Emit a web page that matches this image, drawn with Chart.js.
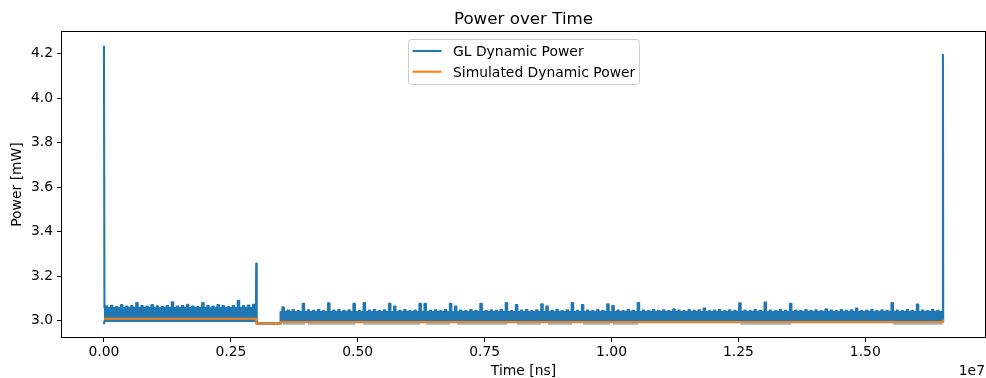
<!DOCTYPE html>
<html>
<head>
<meta charset="utf-8">
<title>Power over Time</title>
<script src="https://cdn.jsdelivr.net/npm/chart.js@4.4.0/dist/chart.umd.min.js"></script>
<style>
    html, body { margin: 0; padding: 0; background: #fff; }
    #powerChart { display: block; }
</style>
</head>
<body>
<canvas id="powerChart" width="986" height="378"></canvas>
<script>
// Tick positions (x in units of 1e7 ns)
const xTicks = [0, 0.25, 0.5, 0.75, 1.0, 1.25, 1.5];
const yTicks = [3.0, 3.2, 3.4, 3.6, 3.8, 4.0, 4.2];

// GL dynamic power, max of each 100 us window, first run (t = 0 .. 3.0e6 ns)
const glWindowNs = 1e5;
const glStartA = 0;
const glMaxA = [3.065, 3.067, 3.062, 3.070, 3.064, 3.066, 3.079, 3.066, 3.064, 3.071,
                3.065, 3.062, 3.066, 3.083, 3.064, 3.066, 3.072, 3.064, 3.062, 3.079,
                3.066, 3.064, 3.071, 3.066, 3.062, 3.066, 3.090, 3.066, 3.068, 3.072];

// second run (t = 3.48e6 .. 16.53e6 ns)
const glStartB = 3.48e6;
const glMaxB = [3.060, 3.046, 3.048, 3.044, 3.076, 3.047, 3.045, 3.048, 3.044, 3.078,
                3.046, 3.048, 3.045, 3.047, 3.076, 3.044, 3.079, 3.046, 3.048, 3.044,
                3.047, 3.076, 3.064, 3.045, 3.048, 3.044, 3.046, 3.076, 3.076, 3.045,
                3.047, 3.044, 3.048, 3.076, 3.064, 3.046, 3.044, 3.048, 3.045, 3.076,
                3.044, 3.047, 3.045, 3.048, 3.079, 3.044, 3.070, 3.046, 3.048, 3.044,
                3.047, 3.074, 3.064, 3.045, 3.048, 3.044, 3.047, 3.079, 3.045, 3.070,
                3.046, 3.044, 3.048, 3.045, 3.074, 3.066, 3.046, 3.044, 3.048, 3.045,
                3.079, 3.046, 3.044, 3.048, 3.045, 3.047, 3.044, 3.052, 3.046, 3.044,
                3.048, 3.045, 3.047, 3.055, 3.044, 3.046, 3.048, 3.044, 3.047, 3.045,
                3.078, 3.046, 3.044, 3.048, 3.045, 3.082, 3.046, 3.044, 3.048, 3.045,
                3.076, 3.046, 3.044, 3.048, 3.045, 3.047, 3.044, 3.052, 3.046, 3.044,
                3.048, 3.045, 3.047, 3.055, 3.044, 3.046, 3.048, 3.044, 3.047, 3.045,
                3.079, 3.046, 3.044, 3.048, 3.045, 3.073, 3.046, 3.044, 3.048, 3.045];

// band top between peaks and band bottom of each run
const glTopA = 3.057;
const glTopB = 3.039;
const glFloorA = 2.999;
const glFloorB = 2.993;
const glGapLevel = 2.988;

// single-sample spikes
const glSpikeTimes = [0, 3.0e6, 16.53e6];
const glSpikePeaks = [4.235, 3.257, 4.195];
const glStartMin = 2.985;

// windows where the GL trace dips below the simulated level
const glDipLevel = 2.986;
const glDipRanges = [
    [3.53e6, 3.96e6], [4.02e6, 4.95e6], [5.11e6, 6.23e6], [6.35e6, 6.82e6],
    [6.96e6, 7.94e6], [8.14e6, 8.61e6], [8.75e6, 9.22e6], [9.44e6, 9.97e6],
    [10.03e6, 10.53e6], [12.54e6, 13.54e6], [15.55e6, 16.52e6]
];

// simulated dynamic power, piecewise constant
const simTimes = [0, 3.0e6, 3.48e6, 16.53e6];
const simPower = [3.009, 2.988, 2.994, 3.005];

const BLUE = '#1f77b4';
const ORANGE = '#ff7f0e';
const FONT = 'DejaVu Sans';
const LINE_W = 2.08;   // 1.5 pt

function windowPeaks(start, peaks, top) {
    const half = 0.15 * glWindowNs;
    const pts = [];
    peaks.forEach((v, i) => {
        const c = start + (i + 0.5) * glWindowNs;
        pts.push({x: c - half, y: top}, {x: c - half, y: v}, {x: c + half, y: v}, {x: c + half, y: top});
    });
    return pts;
}

const glUpper = [
    {x: glSpikeTimes[0], y: glSpikePeaks[0]},
    {x: glSpikeTimes[0] + 1e4, y: glTopA},
    ...windowPeaks(glStartA, glMaxA, glTopA),
    {x: glSpikeTimes[1] - 5e3, y: glTopA},
    {x: glSpikeTimes[1], y: glSpikePeaks[1]},
    {x: glSpikeTimes[1] + 1e4, y: glGapLevel},
    {x: glStartB, y: glGapLevel},
    {x: glStartB, y: glTopB},
    ...windowPeaks(glStartB, glMaxB, glTopB),
    {x: glSpikeTimes[2] - 5e3, y: glTopB},
    {x: glSpikeTimes[2], y: glSpikePeaks[2]},
    {x: glSpikeTimes[2] + 5e3, y: glFloorB}
];

const glLower = [
    {x: glSpikeTimes[0], y: glStartMin},
    {x: glSpikeTimes[0] + 1e4, y: glFloorA},
    {x: glSpikeTimes[1], y: glFloorA},
    {x: glSpikeTimes[1] + 1e4, y: glGapLevel},
    {x: glStartB, y: glGapLevel},
    {x: glStartB, y: glFloorB},
    {x: glSpikeTimes[2] + 5e3, y: glFloorB}
];

const glDips = [];
glDipRanges.forEach(([a, b]) => {
    glDips.push({x: a, y: glDipLevel}, {x: b, y: glDipLevel}, {x: b, y: null});
});

const simData = simTimes.map((t, i) => ({x: t, y: simPower[i]}));

// Title, framed axes, inner legend and the x offset label
const decorations = {
    id: 'decorations',
    afterDraw(chart) {
        const {ctx, chartArea: a} = chart;
        const cx = (a.left + a.right) / 2;
        ctx.save();

        ctx.strokeStyle = '#000';
        ctx.lineWidth = 1;
        ctx.strokeRect(Math.round(a.left) - 0.5, Math.round(a.top) - 0.5,
            Math.round(a.right - a.left) + 1, Math.round(a.bottom - a.top) + 1);

        ctx.fillStyle = '#000';
        ctx.font = '16.7px "' + FONT + '"';
        ctx.textAlign = 'center';
        ctx.textBaseline = 'alphabetic';
        ctx.fillText('Power over Time', cx, a.top - 8.3);

        ctx.font = '13.9px "' + FONT + '"';
        ctx.textAlign = 'right';
        ctx.fillText('1e7', a.right, 375);

        // legend
        const bx = Math.round(cx - 115.5) + 0.5, by = Math.round(a.top + 6.9) + 0.5;
        const bw = 231, bh = 45, r = 3;
        ctx.beginPath();
        ctx.moveTo(bx + r, by);
        ctx.arcTo(bx + bw, by, bx + bw, by + bh, r);
        ctx.arcTo(bx + bw, by + bh, bx, by + bh, r);
        ctx.arcTo(bx, by + bh, bx, by, r);
        ctx.arcTo(bx, by, bx + bw, by, r);
        ctx.closePath();
        ctx.fillStyle = 'rgba(255,255,255,0.8)';
        ctx.fill();
        ctx.strokeStyle = '#cccccc';
        ctx.lineWidth = 1;
        ctx.stroke();

        const entries = [['GL Dynamic Power', BLUE], ['Simulated Dynamic Power', ORANGE]];
        entries.forEach(([label, color], i) => {
            const y = by + 11.5 + i * 20.7;
            ctx.strokeStyle = color;
            ctx.lineWidth = LINE_W;
            ctx.beginPath();
            ctx.moveTo(bx + 4, y);
            ctx.lineTo(bx + 33, y);
            ctx.stroke();
            ctx.fillStyle = '#000';
            ctx.textAlign = 'left';
            ctx.textBaseline = 'alphabetic';
            ctx.fillText(label, bx + 44.5, y + 5);
        });
        ctx.restore();
    }
};

const tickFont = {family: FONT, size: 13.9};

new Chart(document.getElementById('powerChart'), {
    type: 'line',
    data: {
        datasets: [
            {
                label: 'Simulated Dynamic Power',
                data: simData,
                borderColor: ORANGE,
                borderWidth: LINE_W,
                borderJoinStyle: 'round',
                stepped: true,
                pointRadius: 0,
                fill: false,
                order: 0
            },
            {
                label: 'GL dips',
                data: glDips,
                borderColor: 'rgba(31,119,180,0.4)',
                borderWidth: LINE_W,
                pointRadius: 0,
                fill: false,
                order: 1
            },
            {
                label: 'GL Dynamic Power',
                data: glUpper,
                borderColor: BLUE,
                backgroundColor: BLUE,
                borderWidth: LINE_W,
                borderJoinStyle: 'round',
                pointRadius: 0,
                fill: 3,
                order: 2
            },
            {
                label: 'GL floor',
                data: glLower,
                borderColor: BLUE,
                borderWidth: LINE_W,
                borderJoinStyle: 'round',
                pointRadius: 0,
                fill: false,
                order: 3
            }
        ]
    },
    options: {
        responsive: false,
        animation: false,
        devicePixelRatio: 1,
        events: [],
        layout: { padding: { top: 32, right: 1, left: 0, bottom: 0 } },
        plugins: {
            legend: { display: false },
            title: { display: false },
            tooltip: { enabled: false }
        },
        scales: {
            x: {
                type: 'linear',
                min: -826600,
                max: 17358600,
                afterBuildTicks: (scale) => { scale.ticks = xTicks.map(v => ({value: v * 1e7})); },
                afterFit: (scale) => { scale.height = 41; },
                ticks: {
                    autoSkip: false,
                    maxRotation: 0,
                    padding: 2,
                    color: '#000',
                    font: tickFont,
                    callback: (v) => (v / 1e7).toFixed(2)
                },
                grid: { drawOnChartArea: false, tickLength: 5, tickColor: '#000', tickWidth: 1 },
                border: { display: false },
                title: { display: true, text: 'Time [ns]', color: '#000', font: tickFont, padding: {top: 0, bottom: -2} }
            },
            y: {
                type: 'linear',
                min: 2.927,
                max: 4.297,
                afterBuildTicks: (scale) => { scale.ticks = yTicks.map(v => ({value: v})); },
                afterFit: (scale) => { scale.width = 62; },
                ticks: {
                    padding: 4,
                    color: '#000',
                    font: tickFont,
                    callback: (v) => v.toFixed(1)
                },
                grid: { drawOnChartArea: false, tickLength: 5, tickColor: '#000', tickWidth: 1 },
                border: { display: false },
                title: { display: true, text: 'Power [mW]', color: '#000', font: tickFont, padding: {top: 9, bottom: 0} }
            }
        }
    },
    plugins: [decorations]
});
</script>
</body>
</html>
